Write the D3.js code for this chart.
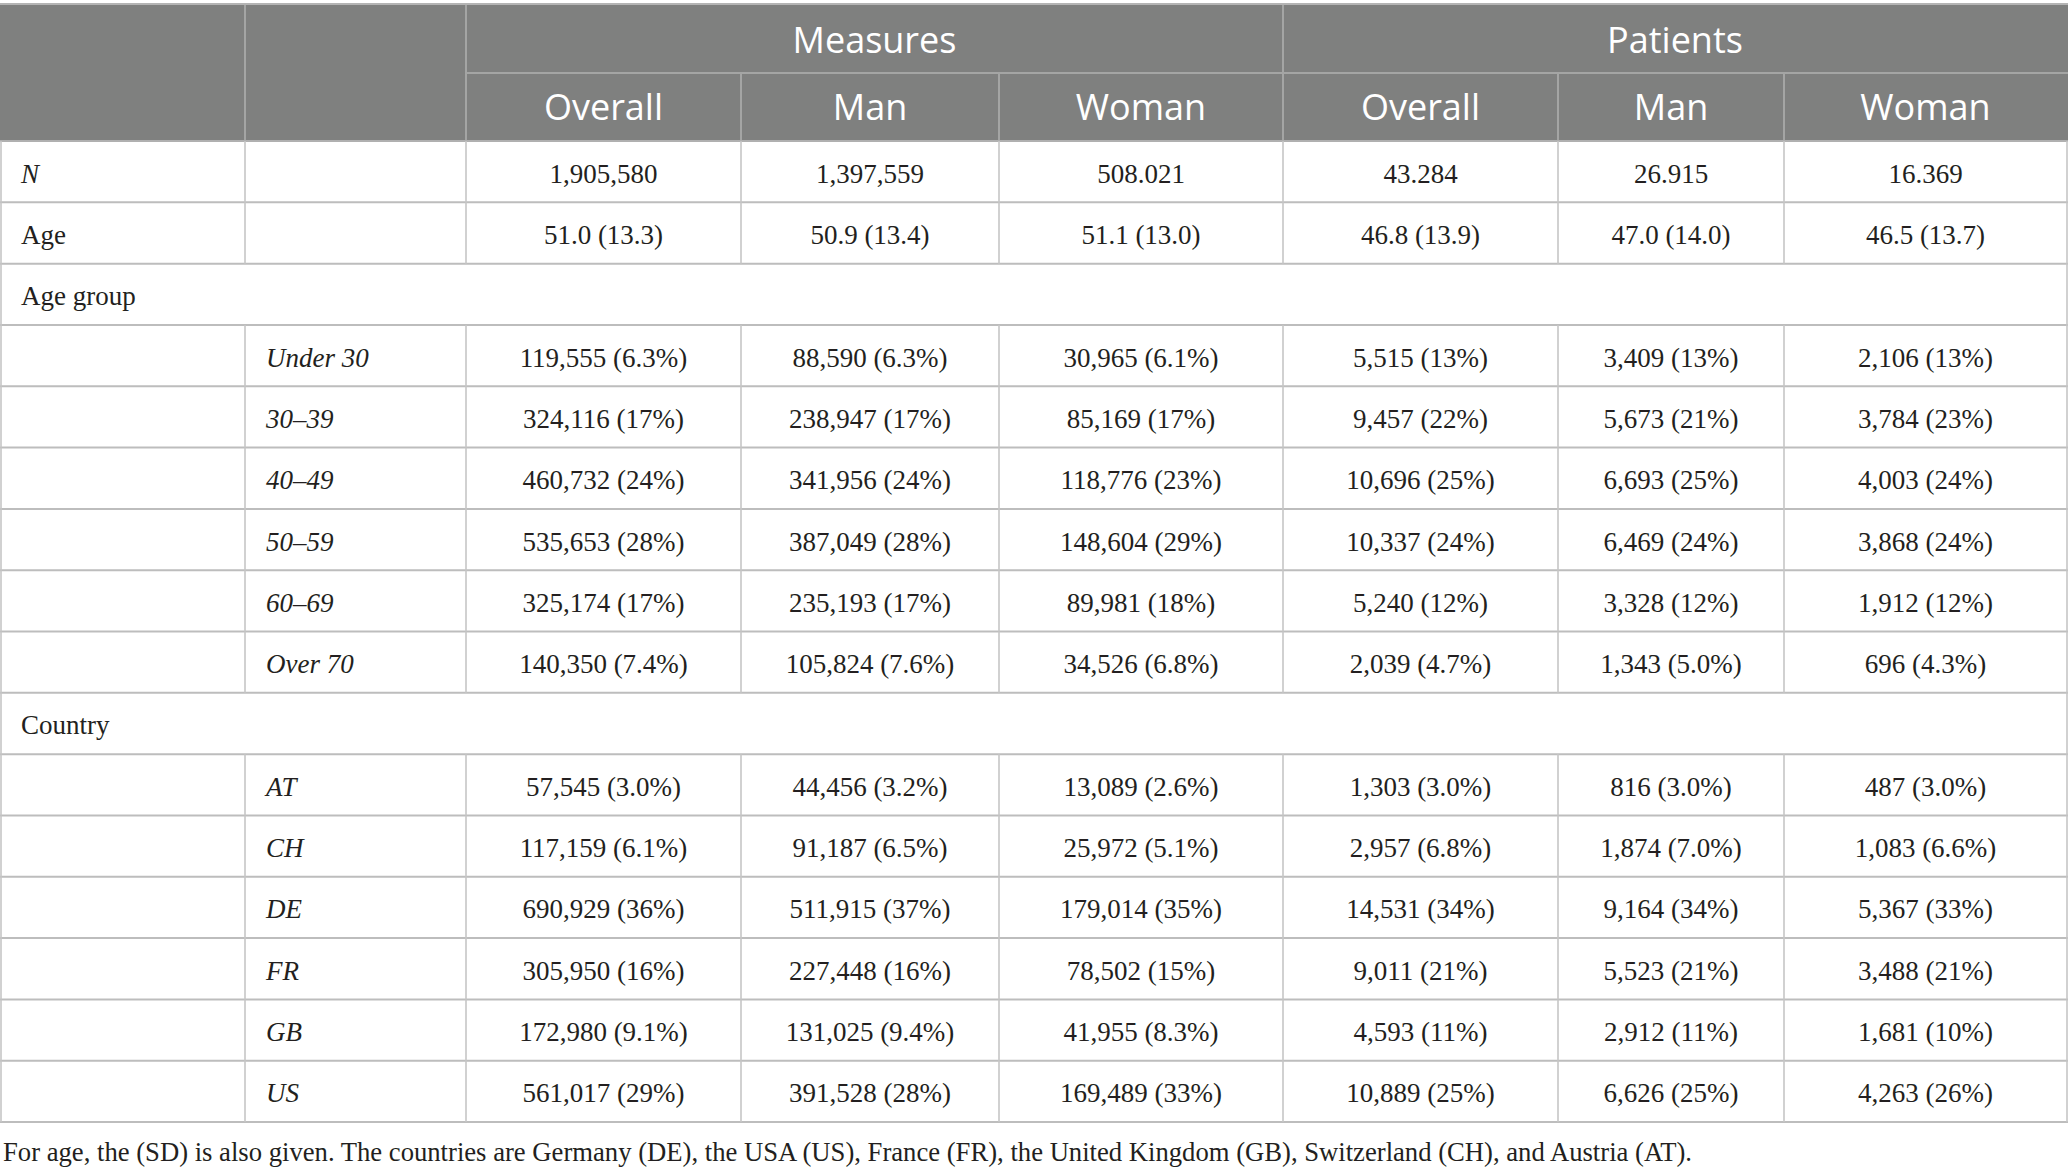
<!DOCTYPE html>
<html>
<head>
<meta charset="utf-8">
<script src="https://cdn.jsdelivr.net/npm/d3@7"></script>
<style>
  body { margin: 0; background: #fff; }
  svg { display: block; }
</style>
</head>
<body>
<div id="chart"></div>
<script>
// table content
const groups = ["Measures", "Patients"];
const subCols = ["Overall", "Man", "Woman"];
const rowLabels = ["N", "Age", "Age group", "", "", "", "", "", "", "Country", "", "", "", "", "", ""];
const subLabels = ["", "", "", "Under 30", "30–39", "40–49", "50–59", "60–69", "Over 70", "", "AT", "CH", "DE", "FR", "GB", "US"];
const sectionRows = [2, 9];
const measuresOverall = ["1,905,580", "51.0 (13.3)", null, "119,555 (6.3%)", "324,116 (17%)", "460,732 (24%)", "535,653 (28%)", "325,174 (17%)", "140,350 (7.4%)", null, "57,545 (3.0%)", "117,159 (6.1%)", "690,929 (36%)", "305,950 (16%)", "172,980 (9.1%)", "561,017 (29%)"];
const measuresMan = ["1,397,559", "50.9 (13.4)", null, "88,590 (6.3%)", "238,947 (17%)", "341,956 (24%)", "387,049 (28%)", "235,193 (17%)", "105,824 (7.6%)", null, "44,456 (3.2%)", "91,187 (6.5%)", "511,915 (37%)", "227,448 (16%)", "131,025 (9.4%)", "391,528 (28%)"];
const measuresWoman = ["508.021", "51.1 (13.0)", null, "30,965 (6.1%)", "85,169 (17%)", "118,776 (23%)", "148,604 (29%)", "89,981 (18%)", "34,526 (6.8%)", null, "13,089 (2.6%)", "25,972 (5.1%)", "179,014 (35%)", "78,502 (15%)", "41,955 (8.3%)", "169,489 (33%)"];
const patientsOverall = ["43.284", "46.8 (13.9)", null, "5,515 (13%)", "9,457 (22%)", "10,696 (25%)", "10,337 (24%)", "5,240 (12%)", "2,039 (4.7%)", null, "1,303 (3.0%)", "2,957 (6.8%)", "14,531 (34%)", "9,011 (21%)", "4,593 (11%)", "10,889 (25%)"];
const patientsMan = ["26.915", "47.0 (14.0)", null, "3,409 (13%)", "5,673 (21%)", "6,693 (25%)", "6,469 (24%)", "3,328 (12%)", "1,343 (5.0%)", null, "816 (3.0%)", "1,874 (7.0%)", "9,164 (34%)", "5,523 (21%)", "2,912 (11%)", "6,626 (25%)"];
const patientsWoman = ["16.369", "46.5 (13.7)", null, "2,106 (13%)", "3,784 (23%)", "4,003 (24%)", "3,868 (24%)", "1,912 (12%)", "696 (4.3%)", null, "487 (3.0%)", "1,083 (6.6%)", "5,367 (33%)", "3,488 (21%)", "1,681 (10%)", "4,263 (26%)"];
const footnote = "For age, the (SD) is also given. The countries are Germany (DE), the USA (US), France (FR), the United Kingdom (GB), Switzerland (CH), and Austria (AT).";

const valueCols = [measuresOverall, measuresMan, measuresWoman, patientsOverall, patientsMan, patientsWoman];

const W = 2068, H = 1175;
const edges = [0, 245, 466, 741, 999, 1283, 1558, 1784, 2067];
const headTop = 4, headMid = 73, headBot = 141, tableBot = 1122;
const serif = "'Liberation Serif', 'Times New Roman', serif";
const sans = "'Open Sans', 'Noto Sans', sans-serif";

const y = d3.scaleLinear().domain([0, rowLabels.length]).range([headBot, tableBot]);
const colX = i => edges[i];
const colMid = i => (edges[i] + edges[i + 1]) / 2;

const svg = d3.select("#chart").append("svg")
    .attr("width", W)
    .attr("height", H);

// header background
svg.append("rect")
    .attr("x", 0).attr("y", headTop)
    .attr("width", edges[8] + 1).attr("height", headBot - headTop)
    .attr("fill", "#7f807f");

// header lines
const hdr = svg.append("g").attr("stroke", "#a4a5a4").attr("stroke-width", 2);
hdr.append("line").attr("x1", edges[2]).attr("x2", edges[8] + 1).attr("y1", headMid).attr("y2", headMid);
[1, 2, 5].forEach(i => hdr.append("line").attr("x1", colX(i)).attr("x2", colX(i)).attr("y1", headTop).attr("y2", headBot));
[3, 4, 6, 7].forEach(i => hdr.append("line").attr("x1", colX(i)).attr("x2", colX(i)).attr("y1", headMid).attr("y2", headBot));
svg.append("line").attr("x1", 0).attr("x2", edges[8] + 1).attr("y1", headTop).attr("y2", headTop)
    .attr("stroke", "#b4b4b4").attr("stroke-width", 2);

// header text
svg.selectAll(".grp")
    .data(groups)
  .enter().append("text")
    .attr("class", "grp")
    .attr("x", (d, i) => (edges[2 + i * 3] + edges[5 + i * 3]) / 2)
    .attr("y", 53)
    .attr("text-anchor", "middle")
    .attr("font-family", sans).attr("font-size", 36).attr("fill", "#fff")
    .text(d => d);

svg.selectAll(".sub")
    .data(d3.range(6))
  .enter().append("text")
    .attr("class", "sub")
    .attr("x", i => colMid(i + 2))
    .attr("y", 120)
    .attr("text-anchor", "middle")
    .attr("font-family", sans).attr("font-size", 36).attr("fill", "#fff")
    .text(i => subCols[i % 3]);

// grid
const grid = svg.append("g").attr("stroke", "#bdbdbd");
grid.selectAll(".hl")
    .data(d3.range(1, rowLabels.length + 1))
  .enter().append("line")
    .attr("x1", 0).attr("x2", edges[8] + 1)
    .attr("y1", d => y(d)).attr("y2", d => y(d))
    .attr("stroke-width", 2);
grid.append("line").attr("x1", 0).attr("x2", edges[8] + 1).attr("y1", headBot).attr("y2", headBot)
    .attr("stroke", "#b0b0b0").attr("stroke-width", 2);
// vertical lines, skipping section rows
d3.range(rowLabels.length).forEach(r => {
  const full = sectionRows.includes(r);
  const xs = full ? [0, edges[8]] : edges;
  xs.forEach(x => grid.append("line")
      .attr("x1", x + (x === 0 ? 1 : 0)).attr("x2", x + (x === 0 ? 1 : 0))
      .attr("y1", y(r)).attr("y2", y(r + 1))
      .attr("stroke", "#c6c6c6").attr("stroke-width", 1.6));
});

// body text
const body = svg.append("g").attr("font-family", serif).attr("font-size", 27).attr("fill", "#231f20");
const ty = r => (y(r) + y(r + 1)) / 2 + 11;

body.selectAll(".rl")
    .data(rowLabels)
  .enter().append("text")
    .attr("x", 21)
    .attr("y", (d, i) => ty(i))
    .attr("font-style", d => d === "N" ? "italic" : "normal")
    .text(d => d);

body.selectAll(".sl")
    .data(subLabels)
  .enter().append("text")
    .attr("x", edges[1] + 21)
    .attr("y", (d, i) => ty(i))
    .attr("font-style", "italic")
    .text(d => d);

valueCols.forEach((col, c) => {
  body.selectAll(".v" + c)
      .data(col)
    .enter().append("text")
      .attr("class", "v" + c)
      .attr("x", colMid(c + 2))
      .attr("y", (d, i) => ty(i))
      .attr("text-anchor", "middle")
      .text(d => d || "");
});

body.append("text")
    .attr("x", 3)
    .attr("y", 1161)
    .attr("textLength", 1689)
    .attr("lengthAdjust", "spacingAndGlyphs")
    .text(footnote);
</script>
</body>
</html>
